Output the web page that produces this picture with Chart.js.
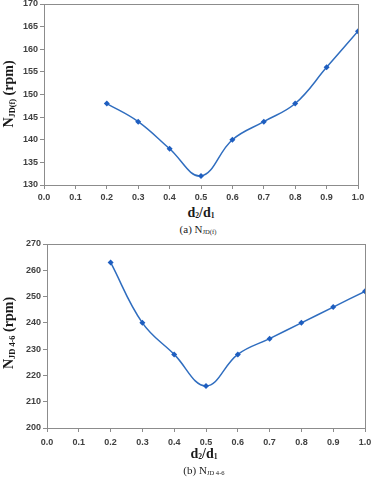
<!DOCTYPE html>
<html lang="en">
<head>
    <meta charset="UTF-8">
    <title>NJD vs d2/d1</title>
    <script src="https://cdn.jsdelivr.net/npm/chart.js"></script>
    <style>
        * { box-sizing: border-box; margin: 0; padding: 0; }
        body {
            width: 372px;
            height: 480px;
            background: #FFFFFF;
            position: relative;
            overflow: hidden;
            font-family: "Liberation Serif", "DejaVu Serif", serif;
            color: #1a1a1a;
        }
        .chart-box { position: absolute; left: 0; width: 372px; }
        .y-title {
            position: absolute;
            font-weight: bold;
            font-size: 14px;
            white-space: nowrap;
            transform: translate(-50%, -50%) rotate(-90deg);
        }
        .y-title sub, .caption sub { font-size: 0.6em; vertical-align: -0.25em; }
        .x-title sub { font-size: 0.55em; vertical-align: -0.1em; }
        .x-title {
            position: absolute;
            font-weight: bold;
            font-size: 14px;
            white-space: nowrap;
            transform: translate(-50%, -50%);
        }
        .caption {
            position: absolute;
            font-size: 11px;
            white-space: nowrap;
            transform: translate(-50%, -50%);
        }
    </style>
</head>
<body>
    <div class="chart-box" style="top:0; height:205px;"><canvas id="chartA"></canvas></div>
    <div class="chart-box" style="top:240px; height:210px;"><canvas id="chartB"></canvas></div>

    <div class="y-title" style="left:9px; top:94px;">N<sub>JD(f)</sub> (rpm)</div>
    <div class="x-title" style="left:201px; top:213px;">d<sub>2</sub>/d<sub>1</sub></div>
    <div class="caption" style="left:198px; top:229px;">(a) N<sub>JD(f)</sub></div>

    <div class="y-title" style="left:9px; top:333px;">N<sub>JD 4-6</sub> (rpm)</div>
    <div class="x-title" style="left:204px; top:454px;">d<sub>2</sub>/d<sub>1</sub></div>
    <div class="caption" style="left:204px; top:470px;">(b) N<sub>JD 4-6</sub></div>

    <script>
        // data
        const ratios = [0.2, 0.3, 0.4, 0.5, 0.6, 0.7, 0.8, 0.9, 1.0];
        const njdF = [148, 144, 138, 132, 140, 144, 148, 156, 164];
        const njd46 = [263, 240, 228, 216, 228, 234, 240, 246, 252];

        const lineBlue = '#2F6DBF';
        const axisGray = '#8C8C8C';
        const tickColor = '#404040';

        // draws the frame round the plot area
        const frame = {
            id: 'frame',
            afterDraw(chart) {
                const a = chart.chartArea, ctx = chart.ctx;
                ctx.save();
                ctx.strokeStyle = axisGray;
                ctx.lineWidth = 1;
                ctx.strokeRect(Math.round(a.left) + 0.5, Math.round(a.top) + 0.5,
                    Math.round(a.right - a.left), Math.round(a.bottom - a.top));
                ctx.restore();
            }
        };

        function makeChart(id, values, yMin, yMax, yStep, yWidth, xHeight, rightPad, xPad) {
            return new Chart(document.getElementById(id), {
                type: 'line',
                data: {
                    datasets: [{
                        data: ratios.map((r, i) => ({ x: r, y: values[i] })),
                        borderColor: lineBlue,
                        backgroundColor: '#1E5EC0',
                        borderWidth: 1.5,
                        tension: 0.4,
                        pointStyle: 'rectRot',
                        pointRadius: 3,
                        pointBorderWidth: 0
                    }]
                },
                options: {
                    responsive: true,
                    maintainAspectRatio: false,
                    animation: false,
                    layout: { padding: { left: 0, right: rightPad, top: 4, bottom: 0 } },
                    plugins: { legend: { display: false }, tooltip: { enabled: false } },
                    scales: {
                        x: {
                            type: 'linear',
                            min: 0, max: 1,
                            grid: { drawOnChartArea: false, drawTicks: true, tickLength: 4, color: axisGray },
                            border: { color: axisGray },
                            ticks: {
                                stepSize: 0.1,
                                padding: xPad,
                                color: tickColor,
                                font: { family: 'Liberation Sans', size: 9, weight: 'bold' },
                                callback: v => v.toFixed(1)
                            },
                            afterFit(s) { s.height = xHeight; s.paddingLeft = 0; s.paddingRight = 0; }
                        },
                        y: {
                            min: yMin, max: yMax,
                            grid: { drawOnChartArea: false, drawTicks: true, tickLength: 4, color: axisGray },
                            border: { color: axisGray },
                            ticks: {
                                stepSize: yStep,
                                padding: 2,
                                color: tickColor,
                                font: { family: 'Liberation Sans', size: 9, weight: 'bold' }
                            },
                            afterFit(s) { s.width = yWidth; s.paddingTop = 0; s.paddingBottom = 0; }
                        }
                    }
                },
                plugins: [frame]
            });
        }

        makeChart('chartA', njdF, 130, 170, 5, 44, 20, 14, 3);
        makeChart('chartB', njd46, 200, 270, 10, 47, 22, 7, 5);
    </script>
</body>
</html>
